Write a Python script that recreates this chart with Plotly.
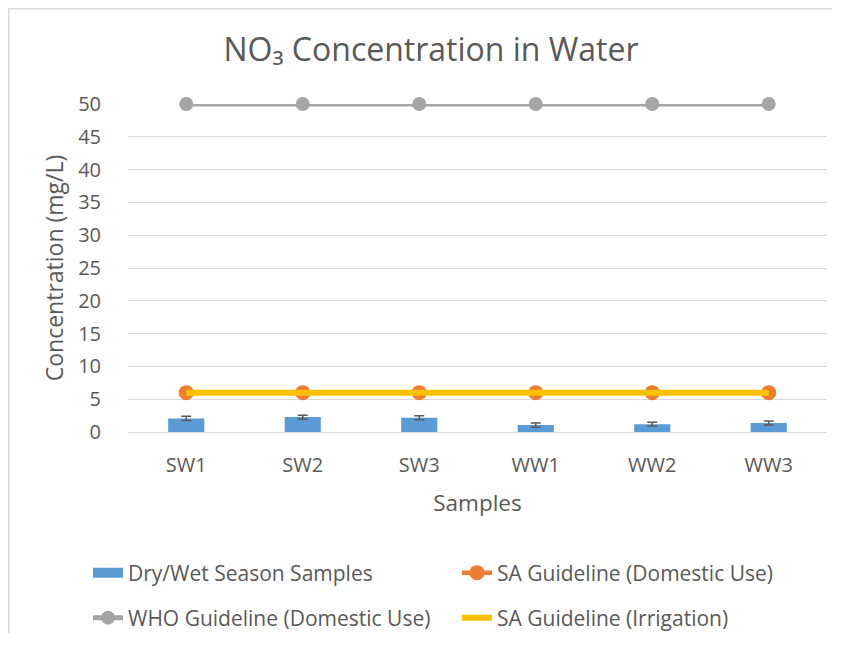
import plotly.graph_objects as go

samples = ["SW1", "SW2", "SW3", "WW1", "WW2", "WW3"]
no3_values = [2.07, 2.27, 2.17, 1.06, 1.2, 1.36]
no3_errors = [0.33, 0.3, 0.3, 0.33, 0.3, 0.3]
sa_domestic = [6, 6, 6, 6, 6, 6]
who_domestic = [50, 50, 50, 50, 50, 50]
sa_irrigation = [6, 6, 6, 6, 6, 6]
y_ticks = [0, 5, 10, 15, 20, 25, 30, 35, 40, 45, 50]

# page body has an 8px margin, so the figure is laid out 8px up/left
# and kept small enough that the page does not overflow the window
OFF = 8
W, H = 844 - 2 * OFF - 4, 649 - 2 * OFF - 8
ML, MT = 128 - OFF, 104 - OFF
PLOT_R, PLOT_B = 827 - OFF, 432.3 - OFF
MR, MB = W - PLOT_R, H - PLOT_B
PW, PH = PLOT_R - ML, PLOT_B - MT


def px_x(px):
    return (px - ML) / PW


def px_y(py):
    return (PLOT_B - py) / PH


FONT = "Open Sans"
TXT = "#595959"
BLUE, ORANGE, GRAY, YELLOW = "#5B9BD5", "#ED7D31", "#A5A5A5", "#FFC000"

fig = go.Figure()
fig.add_trace(go.Bar(
    x=samples, y=no3_values, name="Dry/Wet Season Samples",
    marker=dict(color=BLUE, line=dict(width=0)),
    width=0.31,
    error_y=dict(type="data", array=no3_errors, color="#595959", thickness=1.5, width=5),
    showlegend=False, legendgroup="bars",
))
# legend entry for the bars (a single point in "lines" mode draws nothing on the plot)
fig.add_trace(go.Scatter(
    x=samples[:1], y=no3_values[:1], name="Dry/Wet Season Samples", mode="lines",
    line=dict(color=BLUE, width=10), legend="legend", legendgroup="bars",
    hoverinfo="skip",
))
fig.add_trace(go.Scatter(
    x=samples, y=sa_domestic, name="SA Guideline (Domestic Use)", mode="lines+markers",
    line=dict(color=ORANGE, width=4.5), marker=dict(size=15, color=ORANGE),
    cliponaxis=False, legend="legend2",
))
fig.add_trace(go.Scatter(
    x=samples, y=who_domestic, name="WHO Guideline (Domestic Use)", mode="lines+markers",
    line=dict(color=GRAY, width=5), marker=dict(size=14, color=GRAY),
    cliponaxis=False, legend="legend3",
))
fig.add_trace(go.Scatter(
    x=samples, y=sa_irrigation, name="SA Guideline (Irrigation)", mode="lines",
    line=dict(color=YELLOW, width=6),
    cliponaxis=False, legend="legend4",
))


def leg(xpx, ypx):
    return dict(
        xref="container", yref="container", x=xpx / W, y=1 - ypx / H,
        xanchor="left", yanchor="middle", orientation="h",
        font=dict(family=FONT, size=21, color=TXT),
        bgcolor="rgba(0,0,0,0)", borderwidth=0, itemwidth=30,
    )


fig.update_layout(
    width=W, height=H,
    margin=dict(l=ML, r=MR, t=MT, b=MB, autoexpand=False),
    paper_bgcolor="white", plot_bgcolor="white",
    font=dict(family=FONT, color=TXT),
    title=dict(text="NO₃ Concentration in Water", x=(431 - OFF) / W, xanchor="center",
               y=1 - (50 - OFF) / H, yanchor="middle",
               font=dict(family=FONT, size=32, color=TXT)),
    bargap=0.69,
    showlegend=True,
    legend=leg(80, 565),
    legend2=leg(449, 565),
    legend3=leg(80, 610),
    legend4=leg(449, 610),
    xaxis=dict(
        type="category", categoryorder="array", categoryarray=samples,
        showgrid=False, showline=False, zeroline=False,
        ticks="outside", ticklen=15, tickcolor="rgba(0,0,0,0)",
        tickfont=dict(family=FONT, size=20, color=TXT),
        title=dict(text="Samples", font=dict(family=FONT, size=22.5, color=TXT), standoff=18),
    ),
    yaxis=dict(
        range=[0, 50], tickvals=y_ticks, ticktext=[str(v) for v in y_ticks],
        showgrid=True, gridcolor="#D9D9D9", gridwidth=1.3,
        zeroline=True, zerolinecolor="#D9D9D9", zerolinewidth=1.3,
        showline=False,
        ticks="outside", ticklen=22, tickcolor="rgba(0,0,0,0)",
        tickfont=dict(family=FONT, size=20, color=TXT),
        title=dict(text="Concentration (mg/L)", font=dict(family=FONT, size=23, color=TXT), standoff=8),
    ),
    shapes=[
        dict(type="line", xref="paper", yref="paper",
             x0=px_x(0), x1=px_x(W + 5), y0=px_y(0.75), y1=px_y(0.75),
             line=dict(color="#D9D9D9", width=1.5)),
        dict(type="line", xref="paper", yref="paper",
             x0=px_x(0.75), x1=px_x(0.75), y0=px_y(0), y1=px_y(H + 5),
             line=dict(color="#D9D9D9", width=1.5)),
    ],
)

fig.write_html("out.html")
